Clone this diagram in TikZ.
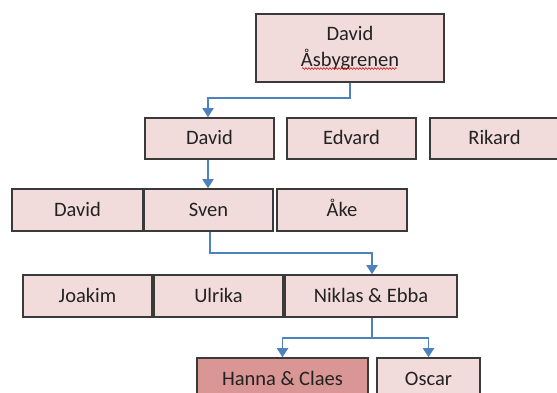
\documentclass[tikz,border=0pt]{standalone}
\usepackage{fontspec}
\setmainfont{Carlito}
\usetikzlibrary{arrows.meta,decorations.pathmorphing}
\definecolor{boxfill}{HTML}{F2DCDB}
\definecolor{hlfill}{HTML}{D99694}
\definecolor{boxline}{HTML}{3A3A3A}
\definecolor{conn}{HTML}{4F81BD}
\definecolor{txt}{HTML}{222222}
\tikzset{
  person/.style={draw=boxline, line width=1.5pt, fill=boxfill, inner sep=0pt,
    minimum height=41pt, text=txt, font=\fontsize{20.5}{26}\selectfont, align=center,
    text height=16pt, text depth=3pt},
  topperson/.style={draw=boxline, line width=1.5pt, fill=boxfill, inner sep=0pt,
    text=txt, font=\fontsize{20.5}{26}\selectfont, align=center},
  link/.style={draw=conn, line width=1.8pt, -{Triangle[width=11pt,length=9pt]}},
  linkplain/.style={draw=conn, line width=1.8pt},
}
\begin{document}
\begin{tikzpicture}[x=1pt,y=1pt]
\useasboundingbox (0,0) rectangle (557,393);
\clip (0,0) rectangle (557,393);
% row 1
\node[topperson, minimum width=188pt, minimum height=68pt] (top) at (350,345) {David\\Åsbygrenen};
% row 2
\node[person, minimum width=129pt] (david2) at (209.5,254.5) {David};
\node[person, minimum width=129pt] (edvard) at (351.5,254.5) {Edvard};
\node[person, minimum width=129pt] (rikard) at (494.5,254.5) {Rikard};
% row 3
\node[person, minimum width=131pt, minimum height=42pt] (david3) at (77.5,183) {David};
\node[person, minimum width=129pt, minimum height=42pt] (sven) at (208.5,183) {Sven};
\node[person, minimum width=130pt, minimum height=42pt] (ake) at (342,183) {Åke};
% row 4
\node[person, minimum width=129pt, minimum height=42pt] (joakim) at (87.5,97) {Joakim};
\node[person, minimum width=129pt, minimum height=42pt] (ulrika) at (218.5,97) {Ulrika};
\node[person, minimum width=172pt, minimum height=42pt] (niklas) at (371,97) {Niklas \& Ebba};
% row 5
\node[person, fill=hlfill, minimum width=171pt, minimum height=42pt] (hanna) at (282.5,14) {Hanna \& Claes};
\node[person, minimum width=103pt, minimum height=42pt] (oscar) at (428.5,14) {Oscar};
% spell-check underline
\coordinate (wl) at (302,324.5);
\coordinate (wr) at (397,324.5);
\draw[red!80!black, line width=0.5pt, decorate, decoration={snake, amplitude=0.9pt, segment length=3pt}] (wl) -- (wr);
% connectors
\draw[link] (top.south) -- ++(0,-15) -| ([xshift=-1.5pt]david2.north);
\draw[link] ([xshift=-1.5pt]david2.south) -- ([xshift=-1.5pt]david2.south |- sven.north);
\draw[link] ([xshift=1.5pt]sven.south) -- ++(0,-21) -| ([xshift=1pt]niklas.north);
\draw[linkplain] ([xshift=1pt]niklas.south) -- ++(0,-20) coordinate (split);
\draw[link] (split) -| (hanna.north);
\draw[link] (split) -| (oscar.north);
\end{tikzpicture}
\end{document}
